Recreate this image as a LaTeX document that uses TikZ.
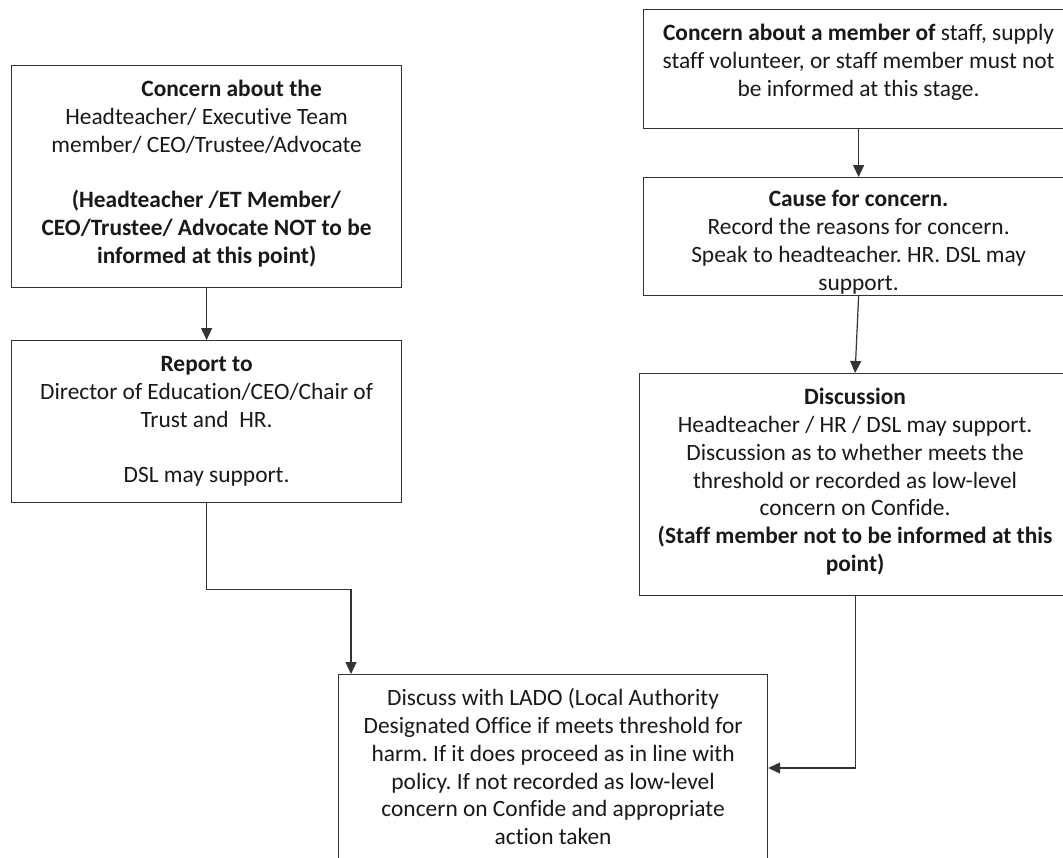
\documentclass[tikz,border=0pt]{standalone}
\usepackage{fontspec}
\setmainfont{Carlito}[Ligatures=NoCommon]
\usetikzlibrary{arrows.meta}
\frenchspacing
\tikzset{
  box/.style={draw=black!80, line width=1.2pt, rectangle, inner sep=0pt, anchor=north west},
  txt/.style={anchor=north, inner sep=0pt, align=center, text=black!90,
              font=\fontsize{23.4}{27.8}\selectfont},
  conn/.style={draw=black!80, line width=1.2pt},
  arr/.style={conn, -{Triangle[width=11pt,length=12pt]}}
}
\begin{document}
\begin{tikzpicture}[x=1pt,y=-1pt]
\useasboundingbox (0,0) rectangle (1063,857);
\clip (0,0) rectangle (1063,857);
\fill[white] (0,0) rectangle (1063,857);
% boxes
\node[box, minimum width=390pt, minimum height=222pt] (A) at (11,65) {};
\node[box, minimum width=390pt, minimum height=162pt] (B) at (11,340) {};
\node[box, minimum width=430pt, minimum height=119pt] (C) at (643,9) {};
\node[box, minimum width=430pt, minimum height=118pt] (D) at (643,177) {};
\node[box, minimum width=431pt, minimum height=222pt] (F) at (639,373) {};
\node[box, minimum width=429pt, minimum height=220pt] (E) at (338,674) {};
% texts
\node[txt, yshift=-12pt] (tA) at (A.north) {\strut\hspace*{50pt}\textbf{Concern about the}\\Headteacher/ Executive Team\\member/ CEO/Trustee/Advocate\\[27.8pt]\textbf{(Headteacher /ET Member/}\\\textbf{CEO/Trustee/ Advocate NOT to be}\\\textbf{informed at this point)}};
\node[txt, yshift=-12pt] (tB) at (B.north) {\strut\textbf{Report to}\\Director of Education/CEO/Chair of\\Trust and\ \ HR.\\[27.8pt]DSL may support.};
\node[txt, yshift=-12pt] (tC) at (C.north) {\strut\textbf{Concern about a member of} staff, supply\\staff volunteer, or staff member must not\\be informed at this stage.};
\node[txt, yshift=-10pt] (tD) at (D.north) {\strut\textbf{Cause for concern.}\\Record the reasons for concern.\\Speak to headteacher. HR. DSL may\\support.};
\node[txt, yshift=-12pt] (tF) at (F.north) {\strut\textbf{Discussion}\\Headteacher / HR / DSL may support.\\Discussion as to whether meets the\\threshold or recorded as low-level\\concern on Confide.\\\textbf{(Staff member not to be informed at this}\\\textbf{point)}};
\node[txt, yshift=-12pt] (tE) at (E.north) {\strut Discuss with LADO (Local Authority\\Designated Office if meets threshold for\\harm. If it does proceed as in line with\\policy. If not recorded as low-level\\concern on Confide and appropriate\\action taken};
% connectors
\draw[arr] (A.south) -- (B.north);
\draw[arr] (C.south) -- (D.north);
\draw[arr] (D.south) -- (F.north);
\coordinate (eIn) at ([xshift=13pt]E.north west);
\coordinate (eSide) at ([yshift=-94pt]E.north east);
\draw[arr] (B.south) -- ++(0,86) -| (eIn);
\draw[arr] (F.south) |- (eSide);
\end{tikzpicture}
\end{document}
